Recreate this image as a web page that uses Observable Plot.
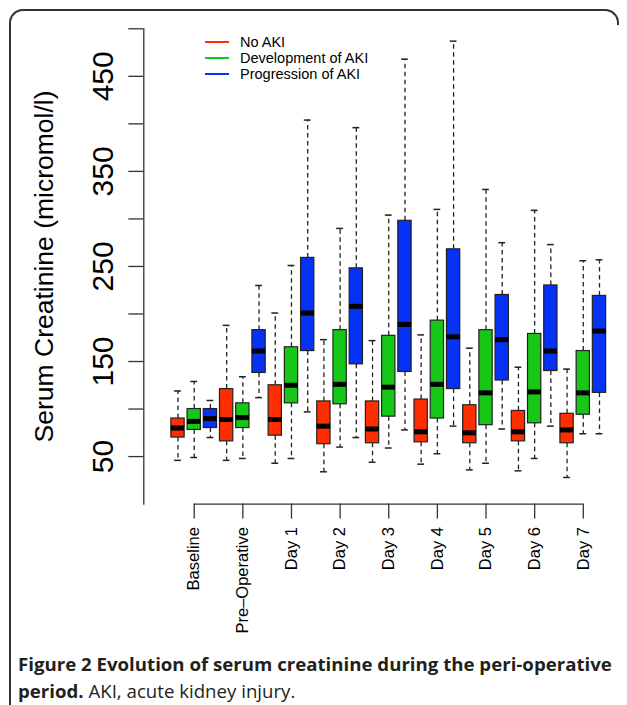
<!DOCTYPE html>
<html>
<head>
<meta charset="utf-8">
<script src="https://cdn.jsdelivr.net/npm/d3@7"></script>
<script src="https://cdn.jsdelivr.net/npm/@observablehq/plot@0.6"></script>
<style>
  html, body { margin: 0; padding: 0; background: white; }
  body { width: 627px; height: 705px; position: relative; overflow: hidden; }
  #chart { position: absolute; left: 0; top: 0; }
  .frame { position: absolute; left: 9px; top: 9px; width: 596px; height: 720px;
           border-top: 2px solid #333; border-left: 2px solid #333; border-top-left-radius: 14px; }
  .frame2 { position: absolute; left: 603px; top: 9px; width: 14px; height: 14px;
            border-top: 2px solid #333; border-right: 2px solid #333; border-top-right-radius: 14px; }
  #legend { position: absolute; left: 0; top: 0; font-family: "Liberation Sans", Arial, sans-serif; font-size: 14.5px; color: #000; }
  .lrow { position: absolute; left: 205px; height: 16px; width: 200px; }
  .lrow .sw { position: absolute; left: 0; top: 7px; width: 24px; height: 2px; }
  .lrow .lt { position: absolute; left: 35px; top: 0; height: 16px; line-height: 16px; white-space: nowrap; display: block; }
  #caption { position: absolute; left: 18px; top: 650px; font-family: "Open Sans", "Noto Sans", sans-serif;
             color: #231f20; line-height: 27px; white-space: nowrap; }
  #caption b { font-weight: 700; }
</style>
</head>
<body>
<div id="chart"></div>
<div class="frame"></div>
<div class="frame2"></div>
<div id="legend"></div>
<div id="caption"><span id="cap1"><b>Figure 2 Evolution of serum creatinine during the peri-operative</b></span><br><b>period.</b> AKI, acute kidney injury.</div>
<script>
// ---- data ----
const timepoints = ["Baseline", "Pre\u2013Operative", "Day 1", "Day 2", "Day 3", "Day 4", "Day 5", "Day 6", "Day 7"];
const groups = ["No AKI", "Development of AKI", "Progression of AKI"];
const groupColors = ["#ff2d00", "#17c717", "#0532f5"];
// each entry: [lower whisker, Q1, median, Q3, upper whisker]
const noAKI = [
  [46, 70, 80, 90, 119],
  [46, 66, 89, 121, 188],
  [43, 72, 89, 125, 201],
  [34, 63, 82, 108, 173],
  [44, 64, 79, 108, 172],
  [42, 65, 76, 110, 178],
  [36, 64, 75, 104, 164],
  [35, 66, 76, 98, 144],
  [28, 64, 78, 95, 142]
];
const developmentAKI = [
  [49, 78, 87, 100, 129],
  [48, 80, 91, 106, 134],
  [48, 106, 125, 165, 251],
  [60, 105, 126, 183, 290],
  [59, 92, 123, 177, 304],
  [53, 90, 126, 193, 310],
  [43, 83, 117, 183, 331],
  [48, 85, 118, 179, 309],
  [74, 94, 117, 161, 256]
];
const progressionAKI = [
  [70, 80, 90, 100, 109],
  [112, 138, 161, 183, 230],
  [97, 161, 201, 259, 404],
  [70, 147, 208, 248, 396],
  [78, 139, 189, 298, 468],
  [82, 121, 176, 268, 487],
  [79, 130, 173, 220, 275],
  [82, 140, 161, 230, 273],
  [74, 117, 182, 219, 257]
];
const yTicks = [50, 100, 150, 200, 250, 300, 350, 400, 450, 500];
const yTickLabels = [50, 150, 250, 350, 450];
const yTitle = "Serum Creatinine (micromol/l)";

// ---- build table ----
const seriesValues = [noAKI, developmentAKI, progressionAKI];
const rows = [];
timepoints.forEach((t, ti) => {
  groups.forEach((g, gi) => {
    const [lo, q1, med, q3, hi] = seriesValues[gi][ti];
    rows.push({time: t, series: g, pos: ti * groups.length + gi + 1, lo, q1, med, q3, hi});
  });
});
const centers = timepoints.map((t, ti) => ti * groups.length + 2);
const half = 0.41, cap = 0.21;

const chart = Plot.plot({
  width: 627,
  height: 645,
  marginLeft: 143.3,
  marginRight: 11.8,
  marginTop: 28.3,
  marginBottom: 141.4,
  x: {domain: [-1.11, 28], axis: null},
  y: {domain: [0, 500], axis: null},
  color: {domain: groups, range: groupColors},
  style: {fontFamily: "'Liberation Sans', Arial, sans-serif", background: "white", color: "#000", overflow: "visible"},
  marks: [
    Plot.frame({anchor: "left", stroke: "#333", strokeWidth: 1.3}),
    Plot.ruleY([{y: 0, x1: centers[0], x2: centers[centers.length - 1]}], {y: "y", x1: "x1", x2: "x2", stroke: "#333", strokeWidth: 1.3}),
    Plot.axisY(yTicks, {anchor: "left", tickSize: 15, tickRotate: -90, tickPadding: 16, fontSize: 30,
      tickFormat: d => yTickLabels.includes(d) ? String(d) : "", stroke: "#333", strokeWidth: 1.3, label: null}),
    Plot.axisX(centers, {anchor: "bottom", tickSize: 15, tickRotate: -90, tickPadding: 8, fontSize: 16.5,
      tickFormat: d => timepoints[(d - 2) / groups.length], stroke: "#333", strokeWidth: 1.3, label: null}),
    Plot.text([yTitle], {frameAnchor: "left", rotate: -90, dx: -99, fontSize: 26.5, textAnchor: "middle", fill: "#000"}),
    // whiskers
    Plot.ruleX(rows, {x: "pos", y1: "q3", y2: "hi", stroke: "#222", strokeWidth: 1.3, strokeDasharray: "4.5,3.5"}),
    Plot.ruleX(rows, {x: "pos", y1: "q1", y2: "lo", stroke: "#222", strokeWidth: 1.3, strokeDasharray: "4.5,3.5"}),
    Plot.ruleY(rows, {y: "hi", x1: d => d.pos - cap, x2: d => d.pos + cap, stroke: "#222", strokeWidth: 1.5}),
    Plot.ruleY(rows, {y: "lo", x1: d => d.pos - cap, x2: d => d.pos + cap, stroke: "#222", strokeWidth: 1.5}),
    // boxes
    Plot.rect(rows, {x1: d => d.pos - half, x2: d => d.pos + half, y1: "q1", y2: "q3", fill: "series", stroke: "#222", strokeWidth: 1.2}),
    // medians
    Plot.ruleY(rows, {y: "med", x1: d => d.pos - half, x2: d => d.pos + half, stroke: "#000", strokeWidth: 5})
  ]
});
document.getElementById("chart").appendChild(chart);

// legend
const legend = document.getElementById("legend");
groups.forEach((g, i) => {
  const row = document.createElement("div");
  row.className = "lrow";
  row.style.top = (33.5 + i * 16.4) + "px";
  const sw = document.createElement("span");
  sw.className = "sw";
  sw.style.background = groupColors[i];
  const lt = document.createElement("span");
  lt.className = "lt";
  lt.textContent = g;
  row.appendChild(sw);
  row.appendChild(lt);
  legend.appendChild(row);
});

// caption: fit first line to the reference width
const capEl = document.getElementById("caption");
let fs = 17;
capEl.style.fontSize = fs + "px";
const w = document.getElementById("cap1").getBoundingClientRect().width;
fs = fs * 594 / w;
capEl.style.fontSize = fs.toFixed(2) + "px";
</script>
</body>
</html>
